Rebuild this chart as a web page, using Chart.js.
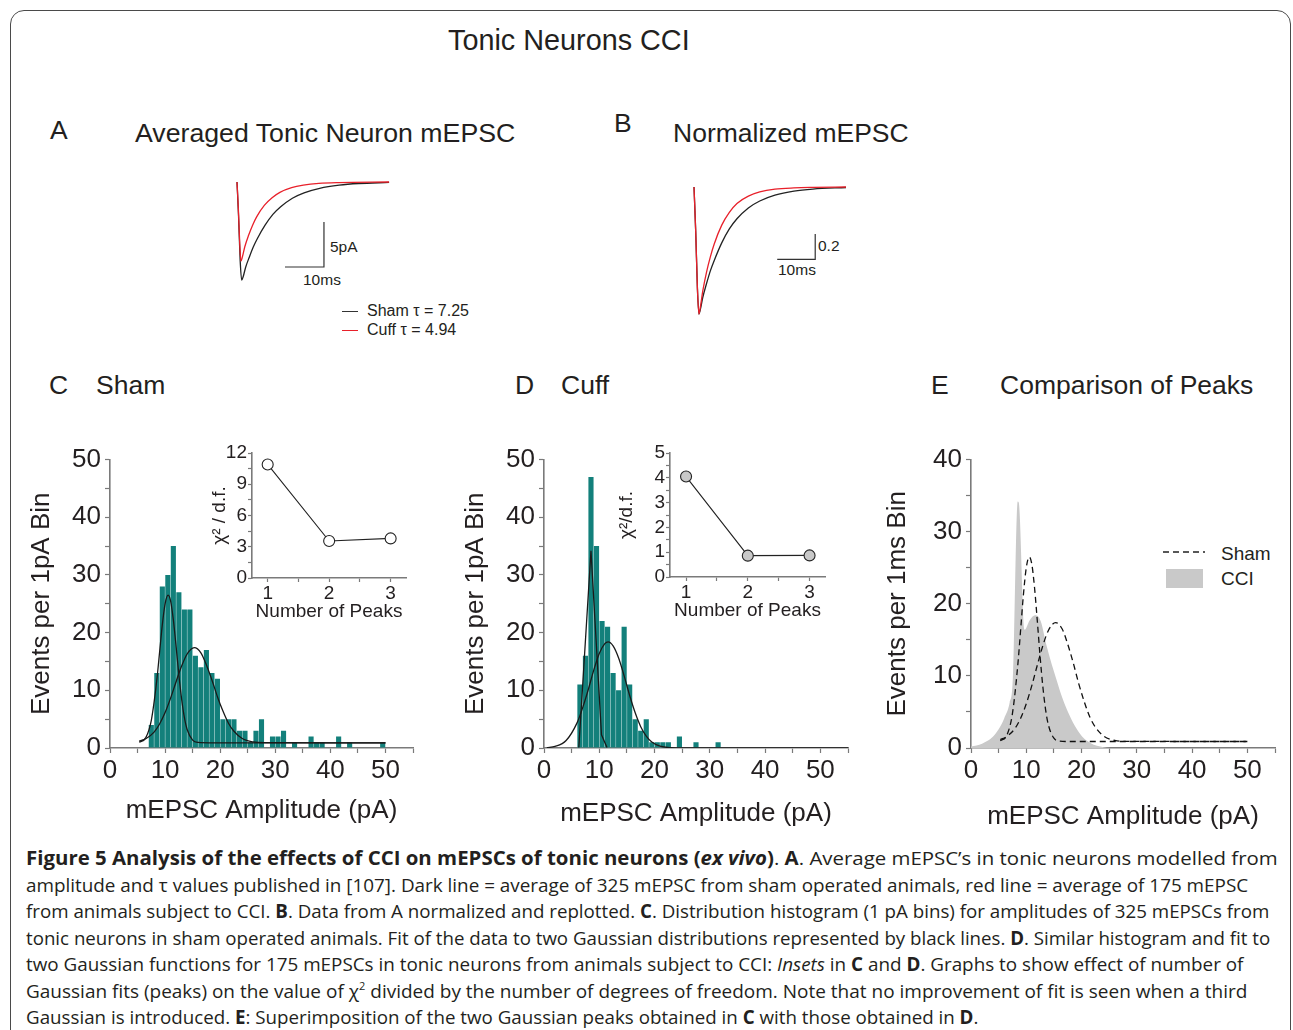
<!DOCTYPE html>
<html>
<head>
<meta charset="utf-8">
<script src="https://cdn.jsdelivr.net/npm/chart.js@4.4.1/dist/chart.umd.min.js"></script>
<style>
  body { margin: 0; background: #fff; font-family: 'Liberation Sans', Arial, sans-serif; color: #231f20; }
  #page { position: relative; width: 1293px; height: 1030px; overflow: hidden; }
  #frame { position: absolute; left: 10px; top: 10px; width: 1279px; height: 1060px; border: 1.5px solid #4a4a4a; border-radius: 14px; }
  .t { position: absolute; white-space: nowrap; line-height: 1; transform: translateY(-50%); }
  canvas { position: absolute; }
  .cap { position: absolute; left: 26px; white-space: nowrap; font-family: 'Open Sans', 'Noto Sans', sans-serif; font-size: 19px; line-height: 1; transform-origin: 0 50%; }
  .key { position: absolute; height: 0; }
</style>
</head>
<body>
<div id="page">
  <div id="frame"></div>

  <div class="t" style="left:448px;top:40px;font-size:28.8px">Tonic Neurons CCI</div>

  <div class="t" style="left:50px;top:130px;font-size:26.5px">A</div>
  <div class="t" style="left:135px;top:133px;font-size:26.7px">Averaged Tonic Neuron mEPSC</div>
  <div class="t" style="left:614px;top:123px;font-size:26.5px">B</div>
  <div class="t" style="left:673px;top:133px;font-size:26.5px">Normalized mEPSC</div>

  <div class="t" style="left:330px;top:247px;font-size:15.5px">5pA</div>
  <div class="t" style="left:303px;top:280px;font-size:15.5px">10ms</div>
  <div class="key" style="left:342px;top:311px;width:16px;border-top:1.2px solid #333"></div>
  <div class="t" style="left:367px;top:311px;font-size:16px">Sham &tau; = 7.25</div>
  <div class="key" style="left:342px;top:330px;width:16px;border-top:1.2px solid #e8202a"></div>
  <div class="t" style="left:367px;top:330px;font-size:16px">Cuff &tau; = 4.94</div>

  <div class="t" style="left:818px;top:246px;font-size:15.5px">0.2</div>
  <div class="t" style="left:778px;top:270px;font-size:15.5px">10ms</div>

  <div class="t" style="left:49px;top:385px;font-size:26.5px">C</div>
  <div class="t" style="left:96px;top:385px;font-size:26.5px">Sham</div>
  <div class="t" style="left:515px;top:385px;font-size:26.5px">D</div>
  <div class="t" style="left:561px;top:385px;font-size:26.5px">Cuff</div>
  <div class="t" style="left:931px;top:385px;font-size:26.5px">E</div>
  <div class="t" style="left:1000px;top:385px;font-size:26.5px">Comparison of Peaks</div>

  <svg style="position:absolute;left:1163px;top:549px" width="44" height="6">
    <line x1="0" y1="3" x2="42" y2="3" stroke="#222" stroke-width="1.4" stroke-dasharray="6 4"/>
  </svg>
  <div class="t" style="left:1221px;top:553px;font-size:19px">Sham</div>
  <div style="position:absolute;left:1166px;top:569px;width:37px;height:19px;background:#c9c9c9"></div>
  <div class="t" style="left:1221px;top:578px;font-size:19px">CCI</div>

  <canvas id="traceA" width="170" height="115" style="left:230px;top:172px"></canvas>
  <canvas id="traceB" width="170" height="145" style="left:685px;top:175px"></canvas>
  <canvas id="histC" width="410" height="400" style="left:20px;top:440px"></canvas>
  <canvas id="insetC" width="215" height="185" style="left:205px;top:440px"></canvas>
  <canvas id="histD" width="410" height="400" style="left:450px;top:440px"></canvas>
  <canvas id="insetD" width="225" height="185" style="left:615px;top:440px"></canvas>
  <canvas id="peaksE" width="420" height="400" style="left:870px;top:440px"></canvas>

  <div id="caption"></div>
</div>

<script>
// ---------- data ----------

// A: averaged mEPSC traces (time in ms, current in pA)
const shamTraceT = [0, 0.4, 0.8, 1.2, 1.6, 2.2, 3.2, 4.2, 5.2, 7.2, 9.2, 11.2, 14.2, 17.2, 21.2, 26.2, 31.2, 39];
const shamTraceI = [0, -3.8, -8.6, -10.9, -10.5, -9.5, -8.3, -7.2, -6.3, -4.8, -3.6, -2.75, -1.8, -1.2, -0.7, -0.35, -0.17, -0.05];
const cuffTraceT = [0, 0.35, 0.7, 1.0, 1.4, 2.0, 3.0, 4.0, 5.0, 7.0, 9.0, 11.0, 14.0, 17.0, 21.0, 26.0, 39];
const cuffTraceI = [0, -3.0, -6.8, -8.8, -8.3, -7.2, -5.9, -4.8, -3.9, -2.6, -1.75, -1.15, -0.63, -0.35, -0.15, -0.06, 0];
// scale bar 10 ms / 5 pA
const scaleBarAT = [12.3, 22.3, 22.3];
const scaleBarAI = [-9.45, -9.45, -4.45];

// B: normalized traces
const normT = [0, 0.45, 0.9, 1.3, 1.7, 2.3, 3.3, 4.3, 5.3, 7.3, 9.3, 11.3, 14.3, 17.3, 21.3, 26.3, 31.3, 40];
const shamNorm = [0, -0.35, -0.8, -1, -0.96, -0.87, -0.76, -0.66, -0.58, -0.44, -0.33, -0.25, -0.165, -0.11, -0.064, -0.032, -0.016, -0.004];
const cuffNorm = [0, -0.35, -0.8, -1, -0.94, -0.82, -0.67, -0.55, -0.45, -0.30, -0.20, -0.13, -0.072, -0.039, -0.017, -0.007, -0.003, 0];
// scale bar 10 ms / 0.2
const scaleBarBT = [21.9, 31.9, 31.9];
const scaleBarBV = [-0.57, -0.57, -0.37];

// C: sham histogram, 1 pA bins (bin start in pA)
const binsC = [7, 8, 9, 10, 11, 12, 13, 14, 15, 16, 17, 18, 19, 20, 21, 22, 23, 24, 25, 26, 27, 28,
               29, 30, 31, 32, 33, 34, 35, 36, 37, 38, 39, 40, 41, 42, 43, 44, 45, 46, 47, 48, 49];
const countsC = [4, 13, 28, 30, 35, 27, 24, 24, 16, 14, 17, 13, 12, 5, 5, 5, 3, 3, 1, 3, 5, 0,
                 2, 2, 3, 0, 1, 0, 0, 2, 1, 1, 0, 0, 2, 0, 1, 0, 0, 0, 0, 0, 1];
// C: two Gaussian fits (also redrawn dashed in E)
const shamFit1X = [5.3, 6.5, 7.5, 8.5, 9.0, 9.5, 10.0, 10.55, 11.0, 11.5, 12.0, 12.5, 13.0, 13.5, 14.0, 15.0, 16.0, 18.0, 50];
const shamFit1Y = [1.0, 1.8, 4.8, 11.8, 16.6, 21.4, 25.0, 26.5, 25.5, 22.2, 17.6, 12.7, 8.5, 5.3, 3.2, 1.36, 0.96, 0.9, 0.9];
const shamFit2X = [5.3, 6.5, 8, 9, 10, 11, 12, 13, 14, 15.3, 16.5, 17.5, 18.5, 19.5, 20.5, 21.5, 22.5, 24, 26, 28, 50];
const shamFit2Y = [1.18, 1.6, 2.76, 4.17, 6.14, 8.65, 11.5, 14.2, 16.3, 17.4, 16.5, 14.4, 11.8, 8.9, 6.4, 4.3, 2.9, 1.65, 1.05, 0.92, 0.9];

// D: cuff histogram
const binsD = [6, 7, 8, 9, 10, 11, 12, 13, 14, 15, 16, 17, 18, 19, 20, 21, 22, 23, 24, 25, 26, 27, 28, 29, 30, 31];
const countsD = [11, 16, 47, 35, 22, 21, 13, 10, 21, 11, 5, 3, 5, 1, 1, 1, 1, 0, 2, 0, 0, 1, 0, 0, 0, 1];
const cuffFit1X = [6.3, 8.5, 10.4, 11.4];
const cuffFit1Y = [0.1, 34.2, 2.3, 0.1];
const cuffFit2X = [0.5, 2, 4, 6, 7, 8, 9, 10, 11, 11.6, 12.5, 13.5, 14.5, 15.5, 16.5, 17.5, 18.5, 19.5, 21, 23, 25, 55];
const cuffFit2Y = [0.06, 0.27, 1.3, 4.4, 7.0, 10.1, 13.5, 16.4, 18.1, 18.4, 17.7, 15.6, 12.5, 9.1, 6.1, 3.7, 2.06, 1.05, 0.32, 0.05, 0, 0];

// insets: chi^2 / d.f. against number of peaks
const peakCounts = [1, 2, 3];
const chiSham = [10.9, 3.55, 3.8];
const chiCuff = [4.05, 0.86, 0.87];

// E: CCI fitted envelope (grey area)
const cciX = [0, 1, 2, 3, 4, 5, 6, 7, 7.55, 8.45, 8.65, 9.7, 10.6, 11.6, 12.6, 13.7, 14.6, 15.5, 16.5, 17.9, 19, 20.1, 21, 22.2, 23.4, 24.6, 26];
const cciY = [0.2, 0.35, 0.6, 1.0, 1.6, 2.6, 4.1, 6.3, 9.4, 34.2, 34.0, 16.4, 17.7, 18.4, 17.6, 14.1, 11.6, 9.4, 7.0, 4.4, 2.8, 1.6, 1.0, 0.46, 0.2, 0.05, 0];

// ---------- drawing ----------
const INK = '#231f20';
const AXIS = '#7a7a7a';
const TEAL = '#13807b';
const RED = '#e8202a';

Chart.defaults.font.family = "'Liberation Sans', Arial, Helvetica, sans-serif";
Chart.defaults.color = INK;
Chart.defaults.animation = false;
Chart.defaults.responsive = false;
Chart.defaults.devicePixelRatio = 1;
Chart.defaults.plugins.legend.display = false;
Chart.defaults.plugins.tooltip.enabled = false;
Chart.defaults.elements.point.radius = 0;

const pts = (xs, ys) => xs.map((x, i) => ({ x: x, y: ys[i] }));
const bars = (bins, counts) => bins.map((b, i) => ({ x: b + 0.5, y: counts[i] }));

function lineSet(xs, ys, color, extra) {
    return Object.assign({
        type: 'line', data: pts(xs, ys), borderColor: color, borderWidth: 1.3,
        pointRadius: 0, fill: false, cubicInterpolationMode: 'monotone', order: 1
    }, extra || {});
}

function axis(o) {
    return {
        type: 'linear', min: o.min, max: o.max, offset: false,
        border: { color: AXIS, width: 1.6 },
        grid: { drawOnChartArea: false, offset: false, color: AXIS, tickLength: o.tl, tickWidth: 1.2 },
        ticks: {
            stepSize: o.step, autoSkip: false, maxRotation: 0, includeBounds: false,
            color: INK, font: { size: o.fs }, padding: o.pad, callback: o.label
        },
        title: {
            display: true, text: o.title, color: INK, font: { size: o.tfs },
            padding: o.horizontal ? { top: 0, bottom: o.tpad } : { top: o.tpad, bottom: 0 }
        },
        afterFit: s => { if (o.horizontal) s.height = o.size; else s.width = o.size; }
    };
}

// hidden axes for the trace panels
function bareScales(xMin, xMax, yMin, yMax) {
    return {
        x: { type: 'linear', display: false, min: xMin, max: xMax },
        y: { type: 'linear', display: false, min: yMin, max: yMax }
    };
}

function traceChart(id, datasets, sc) {
    return new Chart(document.getElementById(id), {
        type: 'scatter',
        data: { datasets: datasets },
        options: { layout: { padding: 0 }, scales: sc }
    });
}

traceChart('traceA', [
    lineSet(cuffTraceT, cuffTraceI, RED),
    lineSet(shamTraceT, shamTraceI, '#222'),
    lineSet(scaleBarAT, scaleBarAI, '#333', { cubicInterpolationMode: 'default', tension: 0, borderWidth: 1.2 })
], bareScales(-1.795, 41.8, -11.67, 1.11));

traceChart('traceB', [
    lineSet(normT, cuffNorm, RED),
    lineSet(normT, shamNorm, '#222'),
    lineSet(scaleBarBT, scaleBarBV, '#333', { cubicInterpolationMode: 'default', tension: 0, borderWidth: 1.2 })
], bareScales(-2.37, 42.37, -1.047, 0.0945));

function mainChart(id, type, datasets, o) {
    return new Chart(document.getElementById(id), {
        type: type,
        data: { datasets: datasets },
        options: {
            layout: { padding: { top: 19, right: o.padRight, bottom: 0, left: 0 } },
            scales: {
                x: axis({
                    horizontal: true, min: 0, max: 55, step: 5, tl: 5, pad: 2, fs: 26, tfs: 26,
                    title: 'mEPSC Amplitude (pA)', tpad: o.xTitlePad, size: 92,
                    label: v => (v % 10 === 0 && v <= 50) ? String(v) : ''
                }),
                y: axis({
                    min: 0, max: o.yMax, step: 5, tl: 5, pad: 4, fs: 26, tfs: 26,
                    title: o.yTitle, tpad: o.yTitlePad, size: o.yWidth,
                    label: v => (v % 10 === 0) ? String(v) : ''
                })
            }
        }
    });
}

function histSet(bins, counts) {
    return {
        type: 'bar', data: bars(bins, counts), backgroundColor: TEAL, borderWidth: 0,
        barPercentage: 0.93, categoryPercentage: 1, order: 2
    };
}

mainChart('histC', 'bar', [
    histSet(binsC, countsC),
    lineSet(shamFit1X, shamFit1Y, '#1a1a1a'),
    lineSet(shamFit2X, shamFit2Y, '#1a1a1a')
], { padRight: 17, xTitlePad: 14, yMax: 50, yTitle: 'Events per 1pA Bin', yTitlePad: 6, yWidth: 90 });

mainChart('histD', 'bar', [
    histSet(binsD, countsD),
    lineSet(cuffFit1X, cuffFit1Y, '#1a1a1a', { cubicInterpolationMode: 'default', tension: 0 }),
    lineSet(cuffFit2X, cuffFit2Y, '#1a1a1a')
], { padRight: 12, xTitlePad: 11, yMax: 50, yTitle: 'Events per 1pA Bin', yTitlePad: 10, yWidth: 94 });

mainChart('peaksE', 'scatter', [
    lineSet(shamFit1X, shamFit1Y, '#111', { borderDash: [6, 4], borderWidth: 1.3 }),
    lineSet(shamFit2X, shamFit2Y, '#111', { borderDash: [6, 4], borderWidth: 1.3 }),
    lineSet(cciX, cciY, '#c9c9c9', { fill: 'origin', backgroundColor: '#c9c9c9', borderWidth: 0, order: 2 })
], { padRight: 15, xTitlePad: 8, yMax: 40, yTitle: 'Events per 1ms Bin', yTitlePad: 12, yWidth: 101 });

function insetChart(id, ys, fillColor, o) {
    return new Chart(document.getElementById(id), {
        type: 'scatter',
        data: {
            datasets: [{
                data: pts(peakCounts, ys), showLine: true, borderColor: '#222', borderWidth: 1.1,
                pointRadius: 5.5, pointBackgroundColor: fillColor, pointBorderColor: '#222',
                pointBorderWidth: 1.1, clip: false
            }]
        },
        options: {
            layout: { padding: { top: o.padTop, right: o.padRight, bottom: 0, left: 0 } },
            scales: {
                x: axis({
                    horizontal: true, min: o.xMin, max: 3.25, step: 0.5, tl: 4, pad: 0, fs: 19, tfs: 19,
                    title: 'Number of Peaks', tpad: o.xTitlePad, size: o.xHeight,
                    label: v => Number.isInteger(v) ? String(v) : ''
                }),
                y: axis({
                    min: 0, max: o.yMax, step: o.yStep, tl: 4, pad: 1, fs: 19, tfs: 19,
                    title: o.yTitle, tpad: o.yTitlePad, size: o.yWidth,
                    label: o.yLabel
                })
            }
        }
    });
}

insetChart('insetC', chiSham, '#ffffff', {
    padTop: 13, padRight: 14, xMin: 0.745, xTitlePad: 2, xHeight: 47,
    yMax: 12, yStep: 1.5, yTitle: '\u03c7\u00b2 / d.f.', yTitlePad: 3, yWidth: 47,
    yLabel: v => (v % 3 === 0) ? String(v) : ''
});

insetChart('insetD', chiCuff, '#c8c8c8', {
    padTop: 13, padRight: 15, xMin: 0.74, xTitlePad: 3, xHeight: 48,
    yMax: 5, yStep: 0.5, yTitle: '\u03c7\u00b2/d.f.', yTitlePad: 0, yWidth: 55,
    yLabel: v => Number.isInteger(v) ? String(v) : ''
});

// ---------- caption ----------
const captionLines = [
    '<b>Figure 5 Analysis of the effects of CCI on mEPSCs of tonic neurons (<i>ex vivo</i>)</b>. <b>A</b>. Average mEPSC\u2019s in tonic neurons modelled from',
    'amplitude and \u03c4 values published in [107]. Dark line = average of 325 mEPSC from sham operated animals, red line = average of 175 mEPSC',
    'from animals subject to CCI. <b>B</b>. Data from A normalized and replotted. <b>C</b>. Distribution histogram (1 pA bins) for amplitudes of 325 mEPSCs from',
    'tonic neurons in sham operated animals. Fit of the data to two Gaussian distributions represented by black lines. <b>D</b>. Similar histogram and fit to',
    'two Gaussian functions for 175 mEPSCs in tonic neurons from animals subject to CCI: <i>Insets</i> in <b>C</b> and <b>D</b>. Graphs to show effect of number of',
    'Gaussian fits (peaks) on the value of \u03c7<sup style="font-size:11px;line-height:0">2</sup> divided by the number of degrees of freedom. Note that no improvement of fit is seen when a third',
    'Gaussian is introduced. <b>E</b>: Superimposition of the two Gaussian peaks obtained in <b>C</b> with those obtained in <b>D</b>.'
];
const captionWidths = [1252, 1222, 1243, 1244, 1217, 1221, 952];

const capBox = document.getElementById('caption');
captionLines.forEach((html, i) => {
    const d = document.createElement('div');
    d.className = 'cap';
    d.innerHTML = html;
    d.style.top = (858 + i * 26.5) + 'px';
    capBox.appendChild(d);
    const k = captionWidths[i] / d.offsetWidth;
    d.style.transform = 'translateY(-50%) scaleX(' + k.toFixed(4) + ')';
});
</script>
</body>
</html>
